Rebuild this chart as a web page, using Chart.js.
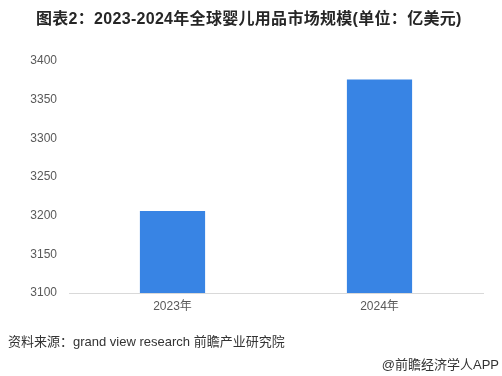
<!DOCTYPE html>
<html>
<head>
<meta charset="utf-8">
<script src="https://cdn.jsdelivr.net/npm/chart.js@4/dist/chart.umd.min.js"></script>
<style>
    html, body { margin: 0; padding: 0; background: #fff; }
    #wrap { position: relative; width: 502px; height: 376px; overflow: hidden; }
    #grafico { position: absolute; left: 0; top: 0; }
    .txt { position: absolute; white-space: nowrap; font-family: Arial, "Liberation Sans", "Noto Sans CJK SC", sans-serif; }
    #titulo { left: 36px; top: 5px; font-size: 16px; font-weight: bold; color: #262626; letter-spacing: 0.3px; }
    #fonte { left: 8px; top: 331px; font-size: 13px; color: #333; }
    #app { right: 3px; top: 354px; font-size: 13px; color: #333; }
</style>
</head>
<body>
<div id="wrap">
    <canvas id="grafico" width="502" height="376"></canvas>
    <div class="txt" id="titulo">图表2：2023-2024年全球婴儿用品市场规模(单位：亿美元)</div>
    <div class="txt" id="fonte">资料来源：grand view research 前瞻产业研究院</div>
    <div class="txt" id="app">@前瞻经济学人APP</div>
</div>
<script>
const anos = ['2023年', '2024年'];
const valores = [3206, 3376];
const eixoY = { min: 3100, max: 3400, passo: 50 };

const ctx = document.getElementById('grafico');

new Chart(ctx, {
    type: 'bar',
    data: {
        labels: anos,
        datasets: [{
            data: valores,
            backgroundColor: '#3884E4',
            barPercentage: 0.63,
            categoryPercentage: 0.5
        }]
    },
    options: {
        responsive: false,
        animation: false,
        layout: { padding: { left: 0, right: 19, top: 61, bottom: 63 } },
        plugins: {
            legend: { display: false },
            tooltip: { enabled: false }
        },
        scales: {
            x: {
                grid: { display: false, drawTicks: false },
                border: { display: true, color: '#d9d9d9' },
                ticks: {
                    color: '#595959',
                    padding: 6,
                    font: { size: 12, family: 'Arial, "Noto Sans CJK SC", sans-serif' }
                },
                afterFit: scale => { scale.height = 20; }
            },
            y: {
                min: eixoY.min,
                max: eixoY.max,
                grid: { display: false, drawTicks: false },
                border: { display: false },
                ticks: {
                    stepSize: eixoY.passo,
                    color: '#595959',
                    padding: 12,
                    font: { size: 12, family: 'Arial, "Noto Sans CJK SC", sans-serif' },
                    callback: value => String(value)
                },
                afterFit: scale => { scale.width = 69; }
            }
        }
    }
});
</script>
</body>
</html>
